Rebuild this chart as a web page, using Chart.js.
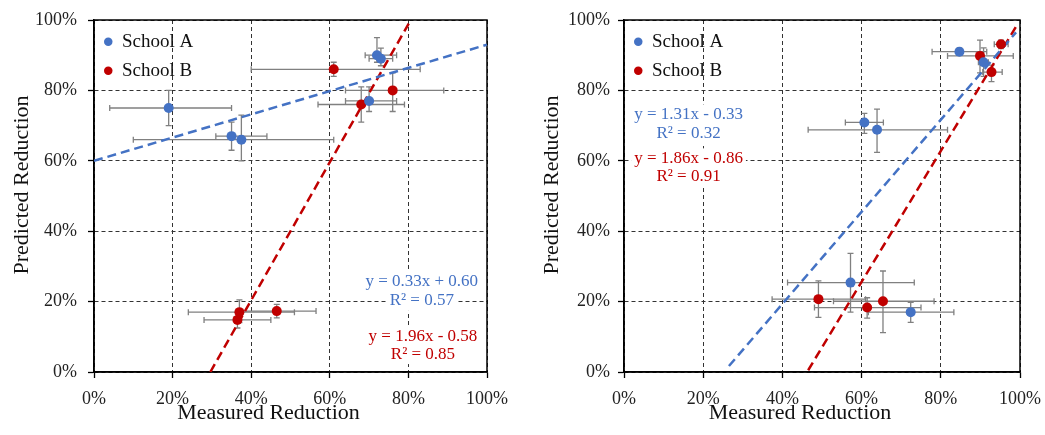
<!DOCTYPE html>
<html>
<head>
<meta charset="utf-8">
<script src="https://cdn.jsdelivr.net/npm/chart.js@4.4.1/dist/chart.umd.min.js"></script>
<style>
  body { margin: 0; background: #fff; }
  canvas { position: absolute; top: 0; }
  #left { left: 0; }
  #right { left: 530px; }
</style>
</head>
<body>
<canvas id="left" width="510" height="435"></canvas>
<canvas id="right" width="515" height="435"></canvas>
<script>
// ---- left panel ----
const leftA_x   = [0.19, 0.35, 0.375, 0.72, 0.73, 0.70];
const leftA_y   = [0.75, 0.67, 0.66, 0.90, 0.89, 0.77];
const leftA_xLo = [0.04, 0.31, 0.10, 0.69, 0.70, 0.64];
const leftA_xHi = [0.35, 0.44, 0.61, 0.77, 0.76, 0.77];
const leftA_yLo = [0.70, 0.63, 0.60, 0.88, 0.87, 0.74];
const leftA_yHi = [0.80, 0.71, 0.73, 0.95, 0.92, 0.81];

const leftB_x   = [0.61, 0.76, 0.68, 0.37, 0.465, 0.365];
const leftB_y   = [0.86, 0.80, 0.76, 0.17, 0.173, 0.148];
const leftB_xLo = [0.40, 0.64, 0.57, 0.24, 0.37, 0.28];
const leftB_xHi = [0.83, 0.89, 0.79, 0.51, 0.565, 0.45];
const leftB_yLo = [0.84, 0.74, 0.71, 0.14, 0.154, 0.125];
const leftB_yHi = [0.88, 0.85, 0.81, 0.205, 0.192, 0.17];

const leftTrendA_x = [0, 1];
const leftTrendA_y = [0.60, 0.93];
const leftTrendB_x = [0.296, 0.806];
const leftTrendB_y = [0, 1];

// ---- right panel ----
const rightA_x   = [0.847, 0.908, 0.607, 0.639, 0.572, 0.724];
const rightA_y   = [0.910, 0.880, 0.709, 0.688, 0.254, 0.170];
const rightA_xLo = [0.778, 0.895, 0.559, 0.465, 0.413, 0.617];
const rightA_xHi = [0.916, 0.920, 0.655, 0.817, 0.733, 0.833];
const rightA_yLo = [0.900, 0.840, 0.678, 0.624, 0.170, 0.141];
const rightA_yHi = [0.920, 0.921, 0.735, 0.747, 0.337, 0.198];

const rightB_x   = [0.899, 0.928, 0.952, 0.491, 0.614, 0.654];
const rightB_y   = [0.898, 0.852, 0.931, 0.207, 0.183, 0.201];
const rightB_xLo = [0.817, 0.906, 0.935, 0.374, 0.481, 0.529];
const rightB_xHi = [0.983, 0.955, 0.970, 0.610, 0.750, 0.783];
const rightB_yLo = [0.850, 0.825, 0.919, 0.155, 0.153, 0.112];
const rightB_yHi = [0.943, 0.872, 0.943, 0.259, 0.211, 0.287];

const rightTrendA_x = [0.265, 0.99];
const rightTrendA_y = [0.017, 0.965];
const rightTrendB_x = [0.465, 0.99];
const rightTrendB_y = [0.005, 0.981];

const seriesNames = ['School A', 'School B'];
const BLUE = '#4472C4';
const RED = '#C00000';
const FONT = '"Liberation Serif", "Times New Roman", serif';

const pts = (xs, ys) => xs.map((v, i) => ({x: v, y: ys[i]}));

// error bars, drawn under the markers
const errorBars = {
  id: 'errorBars',
  beforeDatasetsDraw(chart) {
    const {ctx, scales: {x, y}} = chart;
    ctx.save();
    ctx.strokeStyle = '#808080';
    ctx.lineWidth = 1.3;
    chart.data.datasets.forEach(ds => {
      if (!ds.err) return;
      ds.data.forEach((p, j) => {
        const px = x.getPixelForValue(p.x), py = y.getPixelForValue(p.y);
        const x0 = x.getPixelForValue(ds.err.xLo[j]), x1 = x.getPixelForValue(ds.err.xHi[j]);
        const y0 = y.getPixelForValue(ds.err.yLo[j]), y1 = y.getPixelForValue(ds.err.yHi[j]);
        ctx.beginPath();
        ctx.moveTo(x0, py); ctx.lineTo(x1, py);
        ctx.moveTo(x0, py - 3); ctx.lineTo(x0, py + 3);
        ctx.moveTo(x1, py - 3); ctx.lineTo(x1, py + 3);
        ctx.moveTo(px, y0); ctx.lineTo(px, y1);
        ctx.moveTo(px - 3, y0); ctx.lineTo(px + 3, y0);
        ctx.moveTo(px - 3, y1); ctx.lineTo(px + 3, y1);
        ctx.stroke();
      });
    });
    ctx.restore();
  }
};

// box round the plot area
const frame = {
  id: 'frame',
  beforeDatasetsDraw(chart) {
    const {ctx, chartArea: a} = chart;
    ctx.save();
    ctx.strokeStyle = '#000';
    ctx.lineWidth = 1.5;
    ctx.strokeRect(a.left, a.top, a.right - a.left, a.bottom - a.top);
    ctx.restore();
  }
};

// trendline equations with white backing
const equations = {
  id: 'equations',
  afterDatasetsDraw(chart, args, opts) {
    const {ctx, scales: {x, y}} = chart;
    ctx.save();
    ctx.font = '17px ' + FONT;
    ctx.textAlign = 'center';
    ctx.textBaseline = 'middle';
    (opts.items || []).forEach(it => {
      const px = x.getPixelForValue(it.x), py = y.getPixelForValue(it.y);
      const w = ctx.measureText(it.text).width;
      ctx.fillStyle = '#fff';
      ctx.fillRect(px - w / 2 - 3, py - 10, w + 6, 20);
      ctx.fillStyle = it.color;
      ctx.fillText(it.text, px, py);
    });
    ctx.restore();
  }
};

function axis(isX, tickPad) {
  return {
    type: 'linear',
    min: 0,
    max: 1,
    ticks: {
      stepSize: 0.2,
      padding: tickPad,
      color: '#222',
      font: {family: FONT, size: 18},
      callback: v => Math.round(v * 100) + '%'
    },
    grid: {color: '#333', lineWidth: 1, tickLength: 6, tickColor: '#000', tickWidth: 1.3, borderDash: [4, 3]},
    border: {color: '#000', width: 1.5, dash: [4, 3]},
    title: isX
      ? {display: true, text: 'Measured Reduction        ', color: '#111', font: {family: FONT, size: 22}, padding: {bottom: 9}}
      : {display: true, text: '    Predicted Reduction', color: '#111', font: {family: FONT, size: 22}, padding: {top: 9}},
    afterFit(s) {
      // keep the plot area where the layout padding puts it
      s.paddingLeft = s.paddingRight = s.paddingTop = s.paddingBottom = 0;
      if (isX) s.height = 63; else s.width = 94;
    }
  };
}

function panel(id, A, B, tA, tB, eqItems, rightPad, yTickPad) {
  return new Chart(document.getElementById(id), {
    type: 'scatter',
    data: {
      datasets: [
        {label: seriesNames[0], data: pts(A.x, A.y), err: A, backgroundColor: BLUE, borderColor: BLUE, borderWidth: 0, pointRadius: 5, pointHoverRadius: 5},
        {label: seriesNames[1], data: pts(B.x, B.y), err: B, backgroundColor: RED, borderColor: RED, borderWidth: 0, pointRadius: 5, pointHoverRadius: 5},
        {label: 'trend A', data: pts(tA.x, tA.y), showLine: true, borderColor: BLUE, borderWidth: 2.5, borderDash: [9, 5], pointRadius: 0, fill: false},
        {label: 'trend B', data: pts(tB.x, tB.y), showLine: true, borderColor: RED, borderWidth: 2.5, borderDash: [9, 5], pointRadius: 0, fill: false}
      ]
    },
    options: {
      responsive: false,
      animation: false,
      devicePixelRatio: 1,
      layout: {padding: {top: 20, right: rightPad, left: 0, bottom: 0}},
      scales: {x: axis(true, 10), y: axis(false, yTickPad)},
      plugins: {
        tooltip: {enabled: false},
        legend: {
          position: 'chartArea',
          align: 'start',
          title: {display: true, text: '', font: {size: 1}, padding: {top: 21, bottom: 0}},
          labels: {
            usePointStyle: true,
            pointStyleWidth: 8.5,
            boxHeight: 6,
            padding: 10,
            color: '#111',
            font: {family: FONT, size: 19},
            filter: item => item.datasetIndex < 2
          }
        },
        equations: {items: eqItems}
      }
    },
    plugins: [frame, errorBars, equations]
  });
}

panel('left',
  {x: leftA_x, y: leftA_y, xLo: leftA_xLo, xHi: leftA_xHi, yLo: leftA_yLo, yHi: leftA_yHi},
  {x: leftB_x, y: leftB_y, xLo: leftB_xLo, xHi: leftB_xHi, yLo: leftB_yLo, yHi: leftB_yHi},
  {x: leftTrendA_x, y: leftTrendA_y},
  {x: leftTrendB_x, y: leftTrendB_y},
  [
    {text: 'y = 0.33x + 0.60', x: 0.834, y: 0.256, color: BLUE},
    {text: 'R² = 0.57', x: 0.834, y: 0.202, color: BLUE},
    {text: 'y = 1.96x - 0.58', x: 0.837, y: 0.100, color: RED},
    {text: 'R² = 0.85', x: 0.837, y: 0.051, color: RED}
  ],
  23, 11);

panel('right',
  {x: rightA_x, y: rightA_y, xLo: rightA_xLo, xHi: rightA_xHi, yLo: rightA_yLo, yHi: rightA_yHi},
  {x: rightB_x, y: rightB_y, xLo: rightB_xLo, xHi: rightB_xHi, yLo: rightB_yLo, yHi: rightB_yHi},
  {x: rightTrendA_x, y: rightTrendA_y},
  {x: rightTrendB_x, y: rightTrendB_y},
  [
    {text: 'y = 1.31x - 0.33', x: 0.163, y: 0.732, color: BLUE},
    {text: 'R² = 0.32', x: 0.163, y: 0.678, color: BLUE},
    {text: 'y = 1.86x - 0.86', x: 0.163, y: 0.607, color: RED},
    {text: 'R² = 0.91', x: 0.163, y: 0.555, color: RED}
  ],
  25, 8);
</script>
</body>
</html>
